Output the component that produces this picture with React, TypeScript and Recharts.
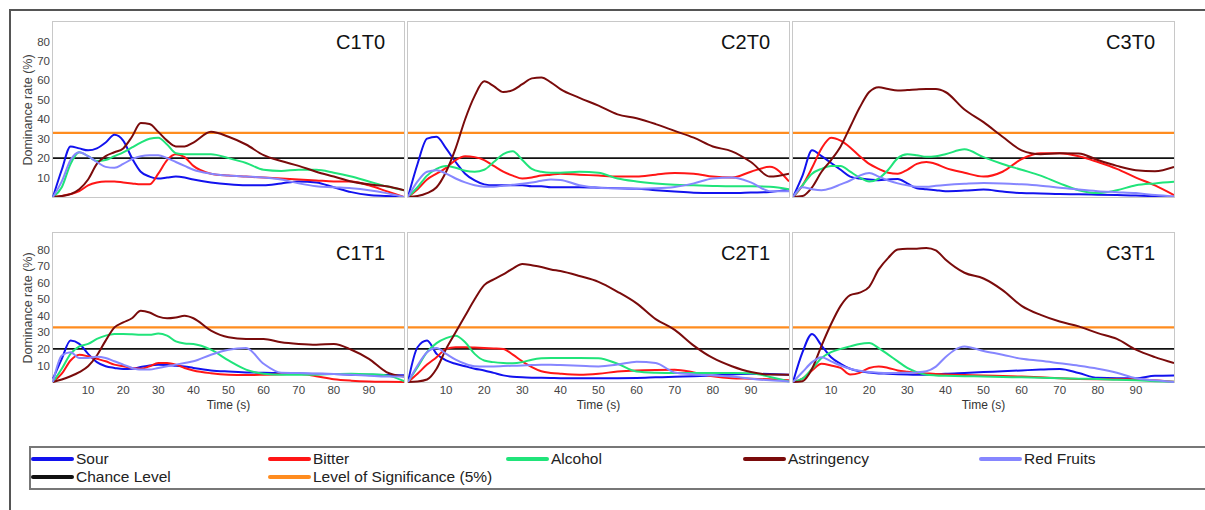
import { LineChart, Line, XAxis, YAxis, ReferenceLine } from 'recharts';

// Time grid (s) shared by every panel
const TIME = [0, 2.5, 5, 7.5, 10, 12.5, 15, 17.5, 20, 22.5, 25, 27.5, 30, 32.5, 35, 37.5, 40, 45, 50, 55, 60, 65, 70, 75, 80, 85, 90, 95, 100];

const X_TICKS = [10, 20, 30, 40, 50, 60, 70, 80, 90];
const Y_TICKS = [10, 20, 30, 40, 50, 60, 70, 80];
const CHANCE_LEVEL = 20;
const SIGNIFICANCE_LEVEL = 33;

const SERIES = [
  { key: 'sour', name: 'Sour', color: '#1212ee' },
  { key: 'bitter', name: 'Bitter', color: '#ff1616' },
  { key: 'alcohol', name: 'Alcohol', color: '#20e47a' },
  { key: 'astringency', name: 'Astringency', color: '#7a0b0b' },
  { key: 'redFruits', name: 'Red Fruits', color: '#8686ff' },
];

// C1T0
const C1T0_SOUR = [0, 14, 26, 25, 24, 25, 28, 32, 29, 20, 13, 10.5, 9.5, 10, 10.5, 10, 9, 7.5, 6.5, 6, 6, 7, 8, 7.5, 5, 2.5, 1, 0.5, 0];
const C1T0_BITTER = [0, 0.5, 1.5, 3, 6, 7.5, 8, 8, 7.5, 7, 6.5, 6.5, 12, 19, 22, 20.5, 16, 12, 11, 10.5, 10, 9.5, 9, 8.5, 8, 8, 6, 3, 0];
const C1T0_ALCOHOL = [0, 5, 17, 23, 21, 18.5, 19, 21, 23, 25.5, 28, 30, 30.5, 27, 22.5, 22, 22, 22, 20, 17.5, 14, 13.4, 14, 14, 12.5, 10.5, 8, 5.5, 3.5];
const C1T0_ASTRINGENCY = [0, 0.5, 1.5, 4, 9, 17, 21, 23, 25, 31, 38, 37.5, 33.5, 29, 26, 26, 28, 33.5, 31, 27, 21.5, 18.5, 16, 13, 10.5, 8, 6.5, 5.5, 3.5];
const C1T0_RED_FRUITS = [0, 8, 19, 23, 21, 18, 15.5, 15, 17, 19.5, 21, 21.5, 21.5, 20, 18, 16, 14, 12, 11, 10.5, 10, 9, 7, 5.5, 5, 4.5, 3.5, 2, 0];

// C2T0
const C2T0_SOUR = [0, 17, 30, 31, 25, 18, 12, 8.5, 6.5, 6, 6, 6, 6, 5.5, 5.5, 5, 5, 5, 4.8, 4.5, 4.3, 3.5, 2.8, 2.2, 2, 2, 2.3, 2.6, 3.8];
const C2T0_BITTER = [0, 4, 9, 12, 15, 19, 21, 20.5, 19, 16, 13, 11, 9.5, 10, 11, 11.5, 12, 11.5, 11, 10.5, 10.5, 11.5, 12.3, 12, 10.5, 10, 13, 15.5, 8];
const C2T0_ALCOHOL = [0, 5, 11, 14.5, 16, 15, 13.5, 13, 14, 18, 22, 23.5, 19, 14.5, 13, 12.5, 12.5, 13, 12.5, 9.5, 8, 7, 6.3, 6, 5.7, 5.5, 5.5, 5.3, 4];
const C2T0_ASTRINGENCY = [0, 0.5, 2, 5, 13, 25, 40, 52, 59.5, 57, 54, 55, 58, 61, 61.5, 59, 55.5, 51, 47, 42.5, 40.5, 37.5, 34, 30.5, 26, 23.5, 18, 10.5, 12];
const C2T0_RED_FRUITS = [0, 8, 13, 13.8, 12, 9.5, 7.5, 6, 5.3, 5.3, 5.8, 6.3, 6.8, 7.5, 8.3, 9, 8.8, 6, 4.8, 4.5, 4.3, 4.5, 5.2, 7, 9.5, 10, 7.5, 3, 3];

// C3T0
const C3T0_SOUR = [0, 11, 24, 21, 17.5, 14, 10.5, 9.5, 9, 8.6, 9, 9.3, 7, 4.5, 4, 3.5, 3, 3.3, 3.8, 2.8, 2, 1.8, 1.5, 1.4, 1.2, 1, 0.8, 0.4, 0];
const C3T0_BITTER = [0, 6, 15, 25, 30.5, 29, 25.5, 21, 17, 14.5, 12.5, 12, 14, 17, 18, 17, 15, 12.5, 10.5, 13, 19.5, 22.5, 22.5, 21, 18, 14.5, 10, 6, 1];
const C3T0_ALCOHOL = [0, 6, 12, 14.5, 16, 16, 13, 10, 8, 9.5, 14, 20, 22, 21.5, 20.7, 21, 22, 24.5, 20.5, 17, 14, 11, 7, 3.5, 2, 3.5, 6, 7, 7.8];
const C3T0_ASTRINGENCY = [0, 0.5, 5, 13, 19, 26, 36, 46, 54, 56.5, 55.5, 54.8, 55, 55.3, 55.5, 55.5, 54, 45, 38.5, 31, 24, 22, 22.5, 22.4, 19, 16, 13.8, 13.3, 15.5];
const C3T0_RED_FRUITS = [0, 5, 4, 3.5, 4.5, 6.5, 8.5, 11, 12.4, 10.5, 8.5, 7, 6, 5.3, 5.3, 5.8, 6.2, 6.8, 7.2, 7, 6.5, 5.8, 4.8, 3.8, 3, 2.5, 2, 1, 0.3];

// C1T1
const C1T1_SOUR = [2, 14, 25, 23, 17, 12, 9.5, 8.5, 7.8, 8, 9, 10, 10.4, 10.2, 9.8, 9.4, 8.5, 7, 6.3, 5.8, 5.6, 5.4, 5.2, 5, 4.8, 4.4, 4.4, 4.3, 4];
const C1T1_BITTER = [0, 5, 13, 16.5, 15.5, 14, 12.5, 10.5, 9.5, 8.5, 8, 9.5, 11.5, 11.5, 10.5, 8.5, 7, 5.3, 4.4, 4.2, 4.4, 4.7, 5, 3.5, 1.7, 0.8, 0.3, 0.1, 0];
const C1T1_ALCOHOL = [0, 8, 17, 21.5, 23, 26, 28, 29, 29, 28.8, 28.5, 28.5, 29.3, 28, 24.5, 23.3, 23, 19.5, 13, 7.5, 5, 4.4, 4.4, 4.4, 4.8, 5, 4.7, 4, 0.5];
const C1T1_ASTRINGENCY = [0, 1.5, 3.5, 6, 9.5, 16, 25, 33, 36, 38.5, 43, 42, 39.5, 38.5, 39, 40, 38.5, 31, 27, 26, 26, 24, 23, 22.5, 23, 19.5, 14, 6, 3.3];
const C1T1_RED_FRUITS = [0, 16, 18, 14.5, 14.5, 15.3, 14.5, 12.5, 10.5, 8.5, 7.5, 7.5, 8.5, 9.5, 10.5, 11.5, 12.5, 16.5, 19.5, 20.5, 11, 5.6, 5.4, 5, 4.8, 4.4, 3.8, 3.3, 3.3];

// C2T1
const C2T1_SOUR = [0, 21, 25, 17, 13, 11, 9.5, 8, 7, 5.5, 4, 3.2, 2.8, 2.6, 2.5, 2.4, 2.3, 2.3, 2.3, 2.3, 2.4, 2.8, 3.2, 3.5, 4, 4.6, 5, 4.8, 4.4];
const C2T1_BITTER = [0, 5, 10.5, 15, 20, 21, 21, 20.8, 20.5, 20.3, 20, 16.5, 12.5, 9, 6.5, 5.5, 5, 4.4, 5, 6.3, 7, 7.3, 7.4, 5.8, 3.5, 2.3, 2, 1.6, 1];
const C2T1_ALCOHOL = [0, 9, 18, 23.5, 26.5, 28, 24, 17, 13, 12, 11.5, 11.3, 12, 13.5, 14.3, 14.5, 14.5, 14.5, 14.4, 11, 6.3, 5.6, 5.4, 5.4, 5.4, 5.4, 5.3, 3, 0.3];
const C2T1_ASTRINGENCY = [0, 0.3, 1.5, 8, 20, 30, 40, 50, 58.5, 62, 65, 68.5, 71.3, 70.5, 69.5, 68, 67, 64, 60.5, 54.5, 47.5, 38, 31.5, 22, 14.5, 9.5, 6, 4.5, 4.4];
const C2T1_RED_FRUITS = [0, 10, 18, 20.5, 17, 13.5, 11, 9.5, 9.3, 9.4, 9.6, 9.8, 10, 10.2, 10.4, 10.4, 10.2, 9.8, 9.4, 10.5, 12.3, 11.5, 5.8, 4.6, 4, 3.3, 2, 1, 0.3];

// C3T1
const C3T1_SOUR = [0, 18, 29, 22, 15, 11, 8, 6.5, 5.7, 5.2, 5, 4.7, 4.5, 4.4, 4.4, 4.6, 5, 5.5, 6, 6.5, 7, 7.5, 7.8, 5.4, 2.5, 2.3, 2.3, 3.8, 4];
const C3T1_BITTER = [0, 2, 7, 11, 10, 8.5, 4.5, 5.5, 8.5, 9.4, 8.5, 7, 6.2, 5.6, 5.2, 4.8, 4.5, 4.2, 4, 3.6, 3.3, 2.8, 2.2, 1.8, 1.7, 1.7, 1.7, 1, 0.1];
const C3T1_ALCOHOL = [0, 2, 8, 14.5, 18, 20, 21.5, 23, 23.5, 20.5, 16.5, 12.5, 8.5, 6, 4.4, 4, 3.8, 3.5, 3.3, 3, 2.8, 2.5, 2.3, 2, 1.8, 1.3, 1, 0.5, 0.1];
const C3T1_ASTRINGENCY = [0, 0.5, 8, 22, 35, 46, 52.5, 54, 57.5, 68, 75, 80, 80.5, 80.5, 81, 79.5, 74, 66, 62.5, 55.5, 46, 40.5, 36.5, 33.6, 29.5, 26, 19.5, 15, 11.4];
const C3T1_RED_FRUITS = [0, 6, 12, 15, 12.5, 10, 8, 6.8, 6, 5.6, 5.4, 5.5, 5.6, 5.8, 6.5, 9.3, 15, 21.5, 18.7, 16.5, 14, 12.8, 11.3, 9.8, 8, 5.6, 2.3, 1, 0];

const PANELS = [
  { title: 'C1T0', row: 0, col: 0, values: { sour: C1T0_SOUR, bitter: C1T0_BITTER, alcohol: C1T0_ALCOHOL, astringency: C1T0_ASTRINGENCY, redFruits: C1T0_RED_FRUITS } },
  { title: 'C2T0', row: 0, col: 1, values: { sour: C2T0_SOUR, bitter: C2T0_BITTER, alcohol: C2T0_ALCOHOL, astringency: C2T0_ASTRINGENCY, redFruits: C2T0_RED_FRUITS } },
  { title: 'C3T0', row: 0, col: 2, values: { sour: C3T0_SOUR, bitter: C3T0_BITTER, alcohol: C3T0_ALCOHOL, astringency: C3T0_ASTRINGENCY, redFruits: C3T0_RED_FRUITS } },
  { title: 'C1T1', row: 1, col: 0, values: { sour: C1T1_SOUR, bitter: C1T1_BITTER, alcohol: C1T1_ALCOHOL, astringency: C1T1_ASTRINGENCY, redFruits: C1T1_RED_FRUITS } },
  { title: 'C2T1', row: 1, col: 1, values: { sour: C2T1_SOUR, bitter: C2T1_BITTER, alcohol: C2T1_ALCOHOL, astringency: C2T1_ASTRINGENCY, redFruits: C2T1_RED_FRUITS } },
  { title: 'C3T1', row: 1, col: 2, values: { sour: C3T1_SOUR, bitter: C3T1_BITTER, alcohol: C3T1_ALCOHOL, astringency: C3T1_ASTRINGENCY, redFruits: C3T1_RED_FRUITS } },
];

const COLS = [
  { left: 53, width: 351 },
  { left: 408, width: 381 },
  { left: 793, width: 381 },
];
const ROWS = [
  { top: 22, height: 175 },
  { top: 233, height: 149 },
];

const FONT = '"Liberation Sans", Arial, Helvetica, sans-serif';
const Y_AXIS_W = 40;
const X_AXIS_H = 30;

function Panel({ panel }: { panel: typeof PANELS[number] }) {
  const col = COLS[panel.col];
  const row = ROWS[panel.row];
  const showY = panel.col === 0;
  const showX = panel.row === 1;

  const data = TIME.map((t, i) => {
    const point: Record<string, number> = { t };
    SERIES.forEach((s) => {
      point[s.key] = (panel.values as Record<string, number[]>)[s.key][i];
    });
    return point;
  });

  const chartLeft = showY ? 0 : col.left;
  const marginLeft = showY ? col.left - Y_AXIS_W : 0;
  const chartWidth = (showY ? col.left : 0) + col.width;
  const chartHeight = row.height + (showX ? X_AXIS_H : 0);

  return (
    <>
      {/* panel frame */}
      <div
        style={{
          position: 'absolute',
          left: col.left - 1,
          top: row.top - 1,
          width: col.width + 2,
          height: row.height + 2,
          border: '1.5px solid #c8c8c8',
          boxSizing: 'border-box',
        }}
      />
      <div style={{ position: 'absolute', left: chartLeft, top: row.top }}>
        <LineChart
          width={chartWidth}
          height={chartHeight}
          data={data}
          margin={{ top: 0, right: 0, bottom: 0, left: marginLeft }}
        >
          <XAxis
            dataKey="t"
            type="number"
            domain={[0, 100]}
            ticks={X_TICKS}
            interval={0}
            hide={!showX}
            height={X_AXIS_H}
            axisLine={false}
            tickLine={false}
            tickSize={0}
            tickMargin={4}
            tick={{ fill: '#444', fontSize: 11.5, fontFamily: FONT }}
            label={{ value: 'Time (s)', position: 'insideBottom', offset: 3, fill: '#333', fontSize: 12, fontFamily: FONT }}
          />
          <YAxis
            type="number"
            domain={[0, 90]}
            ticks={Y_TICKS}
            interval={0}
            hide={!showY}
            width={Y_AXIS_W}
            axisLine={false}
            tickLine={false}
            tickSize={0}
            tickMargin={3}
            tick={{ fill: '#444', fontSize: 11.5, fontFamily: FONT }}
          />
          <ReferenceLine y={CHANCE_LEVEL} stroke="#111" strokeWidth={1.6} />
          <ReferenceLine y={SIGNIFICANCE_LEVEL} stroke="#ff8c1f" strokeWidth={2.2} />
          {SERIES.map((s) => (
            <Line
              key={s.key}
              type="monotone"
              dataKey={s.key}
              stroke={s.color}
              strokeWidth={2}
              dot={false}
              isAnimationActive={false}
            />
          ))}
        </LineChart>
      </div>
      {/* panel title */}
      <div
        style={{
          position: 'absolute',
          right: 1205 - (col.left + col.width - 19),
          top: row.top + 10,
          fontSize: 20,
          lineHeight: '20px',
          color: '#111',
          fontFamily: FONT,
        }}
      >
        {panel.title}
      </div>
      {showY && (
        <div
          style={{
            position: 'absolute',
            left: 28 - 80,
            top: row.top + row.height / 2 - 7,
            width: 160,
            height: 14,
            lineHeight: '14px',
            textAlign: 'center',
            fontSize: 12.5,
            color: '#444',
            fontFamily: FONT,
            transform: 'rotate(-90deg)',
          }}
        >
          Dominance rate (%)
        </div>
      )}
    </>
  );
}

const LEGEND_ITEMS = [
  { name: SERIES[0].name, color: SERIES[0].color, x: 31, row: 0 },
  { name: SERIES[1].name, color: SERIES[1].color, x: 268, row: 0 },
  { name: SERIES[2].name, color: SERIES[2].color, x: 506, row: 0 },
  { name: SERIES[3].name, color: SERIES[3].color, x: 743, row: 0 },
  { name: SERIES[4].name, color: SERIES[4].color, x: 979, row: 0 },
  { name: 'Chance Level', color: '#111', x: 31, row: 1 },
  { name: 'Level of Significance (5%)', color: '#ff8c1f', x: 268, row: 1 },
];

const LEGEND_LEFT = 29;
const LEGEND_TOP = 446;

export default function App() {
  return (
    <div
      style={{
        position: 'absolute',
        left: 0,
        top: 0,
        width: 1205,
        height: 510,
        overflow: 'hidden',
        background: '#fff',
        fontFamily: FONT,
      }}
    >
      {/* outer figure frame */}
      <div
        style={{
          position: 'absolute',
          left: 9,
          top: 9,
          width: 1400,
          height: 700,
          borderTop: '2px solid #555',
          borderLeft: '2px solid #555',
        }}
      />
      {PANELS.map((p) => (
        <Panel key={p.title} panel={p} />
      ))}
      {/* legend */}
      <div
        style={{
          position: 'absolute',
          left: LEGEND_LEFT,
          top: LEGEND_TOP,
          width: 1300,
          height: 44,
          border: '2px solid #777',
          boxSizing: 'border-box',
        }}
      >
        {LEGEND_ITEMS.map((item) => (
          <div
            key={item.name}
            style={{
              position: 'absolute',
              left: item.x - LEGEND_LEFT - 2,
              top: (item.row === 0 ? 459 : 477) - LEGEND_TOP - 2 - 9,
              height: 18,
              display: 'flex',
              alignItems: 'center',
            }}
          >
            <div style={{ width: 43, height: 4.5, borderRadius: 3, background: item.color }} />
            <span style={{ marginLeft: 2, fontSize: 15.5, lineHeight: '18px', color: '#222' }}>{item.name}</span>
          </div>
        ))}
      </div>
    </div>
  );
}
